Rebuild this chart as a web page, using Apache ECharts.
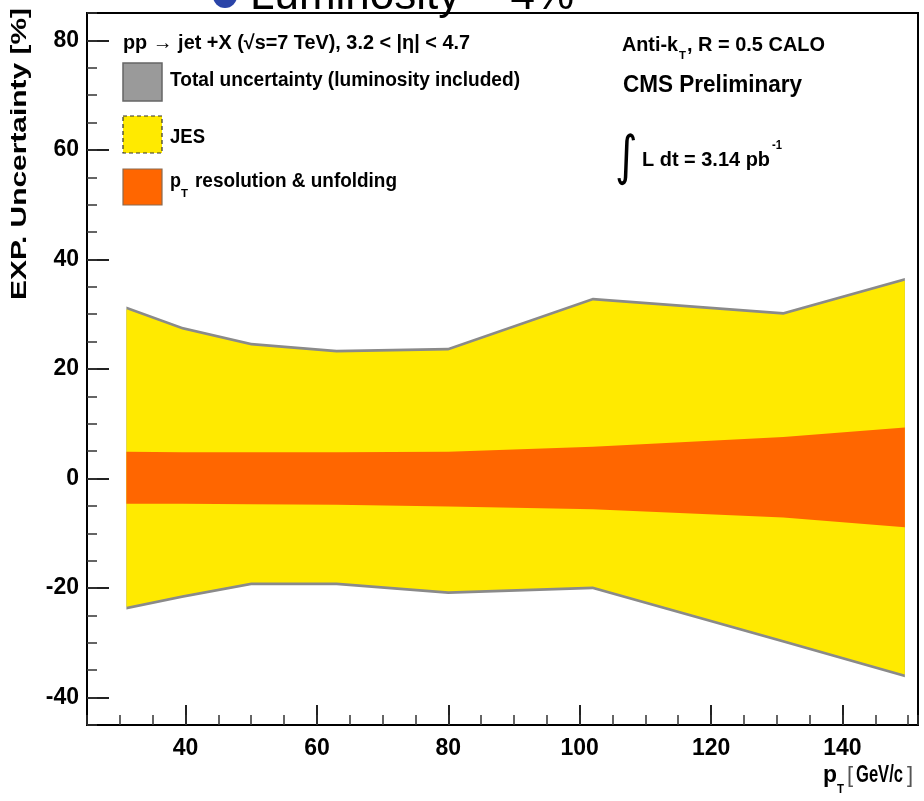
<!DOCTYPE html>
<html>
<head>
<meta charset="utf-8">
<script src="https://cdn.jsdelivr.net/npm/echarts@6/dist/echarts.min.js"></script>
<style>
html, body { margin: 0; padding: 0; background: #fff; }
#main { width: 924px; height: 801px; }
</style>
</head>
<body>
<div id="main"></div>
<script>
// pT points (GeV/c)
var ptPoints = [31, 39.5, 50, 63, 80, 102, 131, 149.5];
// total uncertainty (luminosity included) [%]
var totalUp = [31.4, 27.7, 24.8, 23.5, 23.9, 33.0, 30.4, 36.6];
var totalDown = [-23.9, -21.8, -19.5, -19.5, -21.1, -20.2, -30.0, -36.3];
// JES [%]
var jesUp = [30.9, 27.2, 24.3, 23.0, 23.4, 32.5, 29.9, 36.1];
var jesDown = [-23.4, -21.3, -19.0, -19.0, -20.6, -19.7, -29.5, -35.8];
// pT resolution & unfolding [%]
var resUp = [4.9, 4.8, 4.8, 4.8, 4.9, 5.8, 7.6, 9.3];
var resDown = [-4.6, -4.6, -4.7, -4.8, -5.1, -5.6, -7.1, -8.9];

var yTicks = [-40, -20, 0, 20, 40, 60, 80];
var xTicks = [40, 60, 80, 100, 120, 140];

var BOLD = 'Liberation Sans Narrow, Liberation Sans, Arial, sans-serif';
var myChart = echarts.init(document.getElementById('main'));

// squeeze a text to the width it has in the picture
var measure = document.createElement('canvas').getContext('2d');
function txt(x, y, str, size, width, extra) {
    measure.font = 'bold ' + size + 'px Liberation Sans';
    var w = measure.measureText(str).width;
    var el = {
        type: 'text',
        x: x, y: y,
        scaleX: width ? width / w : 1,
        style: {
            text: str,
            font: 'bold ' + size + 'px Liberation Sans',
            fill: '#000',
            textVerticalAlign: 'middle'
        },
        z: 100
    };
    if (extra) {
        for (var k in extra) el[k] = extra[k];
    }
    return el;
}

function band(name, up, down, color, z) {
    return {
        name: name,
        type: 'custom',
        coordinateSystem: 'cartesian2d',
        data: [[ptPoints[0], up[0]]],
        z: z,
        silent: true,
        renderItem: function (params, api) {
            var pts = [];
            for (var i = 0; i < ptPoints.length; i++) {
                pts.push(api.coord([ptPoints[i], up[i]]));
            }
            for (var j = ptPoints.length - 1; j >= 0; j--) {
                pts.push(api.coord([ptPoints[j], down[j]]));
            }
            return {
                type: 'polygon',
                shape: { points: pts },
                style: { fill: color }
            };
        }
    };
}

var option = {
    backgroundColor: '#fff',
    animation: false,
    grid: {
        left: 87, right: 6, top: 13, bottom: 76,
        show: true,
        borderColor: '#000',
        borderWidth: 2
    },
    xAxis: [
        {
            type: 'value', min: 25, max: 151.5,
            axisLine: { onZero: false, lineStyle: { color: '#000', width: 2 } },
            axisTick: { inside: true, length: 20, customValues: xTicks, lineStyle: { color: '#222', width: 2 } },
            axisLabel: {
                customValues: xTicks, margin: 12,
                fontSize: 23, fontWeight: 'bold', color: '#000', fontFamily: BOLD
            },
            splitLine: { show: false }
        },
        {
            type: 'value', min: 25, max: 151.5, interval: 5, position: 'bottom',
            axisLine: { show: false, onZero: false },
            axisTick: { inside: true, length: 10, lineStyle: { color: '#333', width: 1.5 } },
            axisLabel: { show: false },
            splitLine: { show: false }
        }
    ],
    yAxis: [
        {
            type: 'value', min: -45, max: 85,
            axisLine: { show: true, onZero: false, lineStyle: { color: '#000', width: 2 } },
            axisTick: { show: true, inside: true, length: 22, customValues: yTicks, lineStyle: { color: '#222', width: 2 } },
            axisLabel: {
                customValues: yTicks, margin: 8,
                fontSize: 23, fontWeight: 'bold', color: '#000', fontFamily: BOLD
            },
            splitLine: { show: false }
        },
        {
            type: 'value', min: -45, max: 85, interval: 5, position: 'left',
            axisLine: { show: false, onZero: false },
            axisTick: { show: true, inside: true, length: 10, lineStyle: { color: '#333', width: 1.5 } },
            axisLabel: { show: false },
            splitLine: { show: false }
        }
    ],
    series: [
        band('Total uncertainty (luminosity included)', totalUp, totalDown, '#8a8a8a', 1),
        band('JES', jesUp, jesDown, '#ffea00', 2),
        band('pT resolution & unfolding', resUp, resDown, '#ff6600', 3)
    ],
    graphic: [
        // clipped slide text on top
        { type: 'circle', shape: { cx: 225, cy: -4, r: 12 }, style: { fill: '#2a44a8' }, z: 100 },
        {
            type: 'text', x: 250, y: 19,
            style: { text: 'Luminosity ~ 4%', font: '44px Liberation Sans', fill: '#000', textVerticalAlign: 'bottom' },
            z: 100
        },
        // legend
        txt(123, 43, 'pp \u2192 jet +X (\u221As=7 TeV), 3.2 < |\u03B7| < 4.7', 20, 347),
        { type: 'rect', shape: { x: 123, y: 63, width: 39, height: 38 }, style: { fill: '#9a9a9a', stroke: '#666', lineWidth: 1.5 }, z: 100 },
        txt(170, 80, 'Total uncertainty (luminosity included)', 20, 350),
        { type: 'rect', shape: { x: 123, y: 116, width: 39, height: 37 }, style: { fill: '#ffea00', stroke: '#333', lineWidth: 1.2, lineDash: [4, 3] }, z: 100 },
        txt(170, 137, 'JES', 20, 35),
        { type: 'rect', shape: { x: 123, y: 169, width: 39, height: 36 }, style: { fill: '#ff6600', stroke: '#8a6a50', lineWidth: 1.2 }, z: 100 },
        txt(170, 181, 'p', 20, 11),
        txt(181, 194, 'T', 11, 7),
        txt(195, 181, 'resolution & unfolding', 20, 202),
        // right side
        txt(622, 45, 'Anti-k', 20, 56),
        txt(679, 56, 'T', 11, 7),
        txt(687, 45, ', R = 0.5 CALO', 20, 138),
        txt(623, 86, 'CMS Preliminary', 23, 179),
        {
            type: 'text', x: 615, y: 160, scaleX: 0.8,
            style: { text: '\u222B', font: '54px DejaVu Sans', fill: '#000', textVerticalAlign: 'middle' },
            z: 100
        },
        txt(642, 160, 'L dt = 3.14 pb', 20, 128),
        txt(772, 146, '-1', 12, 10),
        // axis titles
        txt(20, 300, 'EXP. Uncertainty [%]', 22, 292, { rotation: Math.PI / 2 }),
        txt(823, 776, 'p', 23, 14),
        txt(837, 790, 'T', 12, 7),
        {
            type: 'text', x: 847, y: 776,
            style: { text: '[', font: '22px Liberation Sans', fill: '#555', textVerticalAlign: 'middle' },
            z: 100
        },
        txt(856, 776, 'GeV/c', 23, 47),
        {
            type: 'text', x: 907, y: 776,
            style: { text: ']', font: '22px Liberation Sans', fill: '#555', textVerticalAlign: 'middle' },
            z: 100
        }
    ]
};

myChart.setOption(option);
</script>
</body>
</html>
